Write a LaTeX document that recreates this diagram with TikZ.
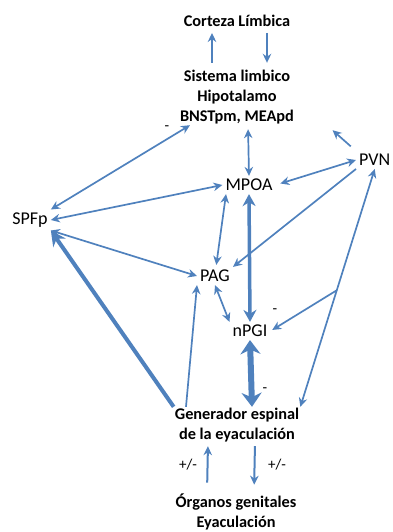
\documentclass[tikz,border=0pt]{standalone}
\usepackage{fontspec}
\setmainfont{Carlito}
\usetikzlibrary{arrows.meta}
\definecolor{azul}{RGB}{79,129,189}

\tikzset{
  bloque/.style={font=\fontsize{16.3}{20}\selectfont\bfseries, align=center, inner sep=1pt},
  nucleo/.style={font=\fontsize{18}{20}\selectfont, inner sep=3pt},
  signo/.style={font=\fontsize{15}{17}\selectfont, inner sep=0pt},
  punta/.tip={Stealth[length=9pt,width=8.5pt]},
  flecha/.style={draw=azul, line width=1.7pt, -punta},
  dflecha/.style={draw=azul, line width=1.7pt, punta-punta},
}

\begin{document}
\begin{tikzpicture}[x=1pt,y=-1pt]
  \useasboundingbox (0,0) rectangle (392,532);

  %%% textos
  \node[bloque] (cort) at (237,21) {Corteza Límbica};
  \node[bloque] (lim) at (237,97) {Sistema limbico\\Hipotalamo\\BNSTpm, MEApd};
  \node[nucleo] (mpoa) at (249,185) {MPOA};
  \node[nucleo, anchor=west] (pvn) at (356,160) {PVN};
  \node[nucleo] (spfp) at (30,220) {SPFp};
  \node[nucleo] (pag) at (215,276) {PAG};
  \node[nucleo] (npgi) at (250,331) {nPGI};
  \node[bloque] (gen) at (237,425) {Generador espinal\\de la eyaculación};
  \node[bloque] (org) at (236,512) {Órganos genitales\\Eyaculación};

  \node[signo] (m1) at (167,128) {-};
  \node[signo] (m2) at (275,311) {-};
  \node[signo] (m3) at (265,390) {-};
  \node[signo] (s1) at (188,465) {+/-};
  \node[signo] (s2) at (277,465) {+/-};

  %%% arriba
  \draw[flecha, line width=2pt, shorten <=6pt, shorten >=5pt] ([xshift=-25pt]lim.north) -- ([xshift=-25pt]cort.south);
  \draw[flecha, line width=2pt, shorten <=5pt, shorten >=6pt] ([xshift=30pt]cort.south) -- ([xshift=30pt]lim.north);
  \draw[dflecha] (spfp.north east) -- ([xshift=-47pt]lim.south);
  \draw[dflecha, shorten <=4pt] ([xshift=11pt]lim.south) -- (mpoa.north);
  \draw[flecha, shorten <=7pt, shorten >=50pt] (pvn.north west) -- (lim.east);
  \draw[dflecha, shorten <=5pt] (mpoa.east) -- (pvn.west);

  %%% centro
  \draw[dflecha] (spfp.east) -- (mpoa.west);
  \draw[dflecha] (spfp.south east) -- (pag.west);
  \draw[flecha] (pvn.south west) -- (pag.north east);
  \draw[dflecha, shorten >=2pt] ([xshift=-23pt]mpoa.south) -- ([xshift=1pt]pag.north);
  \draw[dflecha, line width=3.5pt, {Stealth[length=12pt,width=13pt]}-{Stealth[length=12pt,width=13pt]}] (mpoa.south) -- (npgi.north);
  \draw[dflecha] (pag.south) -- (npgi.north west);
  \draw[dflecha] (pvn.south) -- (gen.north east) coordinate[pos=0.51] (rama);
  \draw[flecha, shorten >=2pt] (rama) -- (npgi.east);

  %%% abajo
  \draw[dflecha, line width=6pt, {Stealth[length=14pt,width=20pt]}-{Stealth[length=14pt,width=20pt]}] (npgi.south) -- ([xshift=15pt]gen.north);
  \draw[flecha, line width=4pt, -{Stealth[length=15pt,width=15pt]}] (gen.north west) -- (spfp.south east);
  \draw[flecha] ([xshift=-51pt]gen.north) -- ([xshift=-18pt]pag.south);
  \draw[flecha, line width=2pt, shorten <=10pt, shorten >=3pt] ([xshift=-29pt]org.north) -- ([xshift=-29pt]gen.south);
  \draw[flecha, line width=2pt, shorten <=3pt, shorten >=8pt] ([xshift=18pt]gen.south) -- ([xshift=18pt]org.north);
\end{tikzpicture}
\end{document}
